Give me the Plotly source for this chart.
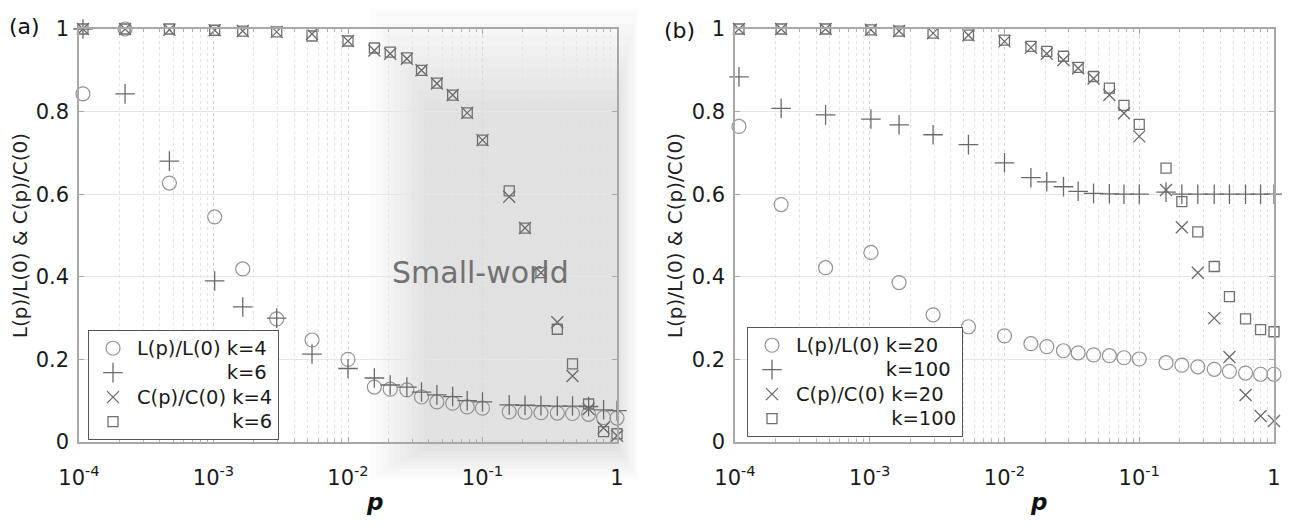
import plotly.graph_objects as go

# ---------------- data ----------------
p = [1.07e-4, 2.2e-4, 4.7e-4, 1.02e-3, 1.65e-3, 2.95e-3, 5.4e-3, 0.01, 0.0157, 0.0206,
     0.0274, 0.0352, 0.0458, 0.06, 0.077, 0.1, 0.158, 0.207, 0.272, 0.36, 0.467,
     0.615, 0.795, 1.0]

# panel (a)
L_k4 = [0.843, 1.0, 0.627, 0.545, 0.419, 0.298, 0.247, 0.200, 0.133, 0.128, 0.126, 0.109,
        0.097, 0.094, 0.085, 0.082, 0.073, 0.072, 0.071, 0.070, 0.069, 0.067, 0.059, 0.058]
L_k6 = [1.0, 0.843, 0.68, 0.39, 0.327, 0.30, 0.213, 0.178, 0.155, 0.138, 0.133, 0.121,
        0.114, 0.11, 0.10, 0.097, 0.09, 0.089, 0.088, 0.087, 0.087, 0.086, 0.078, 0.076]
C_k4 = [1.0, 1.0, 0.998, 0.997, 0.995, 0.993, 0.988, 0.971, 0.948, 0.94, 0.928, 0.90,
        0.868, 0.84, 0.797, 0.731, 0.594, 0.518, 0.41, 0.29, 0.16, 0.08, 0.034, 0.015]
C_k6 = [1.0, 1.0, 1.0, 0.997, 0.995, 0.993, 0.983, 0.971, 0.954, 0.944, 0.93, 0.90,
        0.869, 0.84, 0.797, 0.731, 0.608, 0.518, 0.41, 0.273, 0.189, 0.092, 0.025, 0.02]

# panel (b)
L_k20 = [0.764, 0.575, 0.422, 0.459, 0.386, 0.308, 0.279, 0.257, 0.238, 0.231, 0.221, 0.216,
         0.211, 0.209, 0.204, 0.201, 0.192, 0.186, 0.182, 0.176, 0.171, 0.167, 0.164, 0.164]
L_k100 = [0.884, 0.808, 0.792, 0.782, 0.768, 0.744, 0.720, 0.676, 0.64, 0.63, 0.618, 0.607,
          0.602, 0.601, 0.60, 0.60, 0.605, 0.60, 0.60, 0.60, 0.60, 0.60, 0.60, 0.60]
C_k20 = [1.0, 1.0, 1.0, 0.998, 0.995, 0.99, 0.985, 0.97, 0.955, 0.94, 0.925, 0.905,
         0.88, 0.84, 0.796, 0.74, 0.61, 0.52, 0.41, 0.30, 0.206, 0.114, 0.063, 0.051]
C_k100 = [1.0, 1.0, 1.0, 0.998, 0.995, 0.99, 0.985, 0.973, 0.958, 0.946, 0.934, 0.907,
          0.885, 0.857, 0.815, 0.769, 0.663, 0.582, 0.509, 0.425, 0.352, 0.298, 0.272, 0.267]

x_tickvals = [1e-4, 1e-3, 1e-2, 1e-1, 1]
x_ticktext = ["10<sup>-4</sup>", "10<sup>-3</sup>", "10<sup>-2</sup>", "10<sup>-1</sup>", "1"]
y_tickvals = [0, 0.2, 0.4, 0.6, 0.8, 1]
y_ticktext = ["0", "0.2", "0.4", "0.6", "0.8", "1"]
minor_vals = [m * 10.0 ** d for d in range(-4, 0) for m in range(2, 10)]

FONT = "DejaVu Sans"
OFF = 8                      # page body margin of the html page
W, H = 1290 - 2 * OFF, 526 - 2 * OFF
# plot area in page pixels: x 79..1274, y 29..442
ML = 79 - OFF
MT = 29 - OFF
MR = W - (1274 - OFF)
MB = H - (442 - OFF)
PW, PH = W - ML - MR, H - MT - MB


def px_x(px):
    return (px - OFF - ML) / PW


def px_y(py):
    return (H - MB - (py - OFF)) / PH


fig = go.Figure()

styles = {
    "circle": dict(symbol="circle-open", size=14, color="#939393", width=1.2),
    "plus": dict(symbol="cross-thin-open", size=14, color="#6a6a6a", width=1.3),
    "x": dict(symbol="x-thin-open", size=12, color="#6a6a6a", width=1.3),
    "square": dict(symbol="square-open", size=10, color="#707070", width=1.3),
}


def add(y, st, name, xa, ya, legend):
    s = styles[st]
    fig.add_trace(go.Scatter(
        x=p, y=y, mode="markers", name=name, xaxis=xa, yaxis=ya, legend=legend,
        cliponaxis=False,
        marker=dict(symbol=s["symbol"], size=s["size"], color=s["color"],
                    line=dict(color=s["color"], width=s["width"])),
    ))


LEG_FS = "19.5px"


def shown(txt):
    return "<span style='font-size:%s'>%s</span>" % (LEG_FS, txt)


def hidden(txt):
    return "<span style='font-size:%s;color:rgba(0,0,0,0)'>%s</span>" % (LEG_FS, txt)


add(L_k4, "circle", shown("L(p)/L(0) k=4"), "x", "y", "legend")
add(L_k6, "plus", hidden("L(p)/L(0)") + shown(" k=6"), "x", "y", "legend")
add(C_k4, "x", shown("C(p)/C(0) k=4"), "x", "y", "legend")
add(C_k6, "square", hidden("C(p)/C(0)") + shown(" k=6"), "x", "y", "legend")

add(L_k20, "circle", shown("L(p)/L(0) k=20"), "x2", "y2", "legend2")
add(L_k100, "plus", hidden("L(p)/L(0)") + shown(" k=100"), "x2", "y2", "legend2")
add(C_k20, "x", shown("C(p)/C(0) k=20"), "x2", "y2", "legend2")
add(C_k100, "square", hidden("C(p)/C(0)") + shown(" k=100"), "x2", "y2", "legend2")

xaxis_common = dict(
    type="log", range=[-4, 0], tickmode="array", tickvals=x_tickvals, ticktext=x_ticktext,
    showline=True, linecolor="#a8a8a8", linewidth=1.5, mirror="ticks",
    ticks="inside", ticklen=5, tickcolor="#a8a8a8",
    showgrid=True, gridcolor="#d8d8d8", griddash="dot", gridwidth=1,
    minor=dict(tickmode="array", tickvals=minor_vals, ticks="inside", ticklen=3,
               tickcolor="#b0b0b0", showgrid=True, gridcolor="#e4e4e4", griddash="dot"),
    tickfont=dict(family=FONT, size=21, color="#1a1a1a"),
    ticklabelstandoff=16, zeroline=False,
)
yaxis_common = dict(
    range=[0, 1], tickmode="array", tickvals=y_tickvals, ticktext=y_ticktext,
    showline=True, linecolor="#a8a8a8", linewidth=1.5, mirror="ticks",
    ticks="inside", ticklen=5, tickcolor="#a8a8a8",
    showgrid=True, gridcolor="#e6e6e6", gridwidth=1, zeroline=False,
    tickfont=dict(family=FONT, size=21, color="#1a1a1a"),
    ticklabelstandoff=4,
    title=dict(text="L(p)/L(0) & C(p)/C(0)", font=dict(family=FONT, size=20, color="#222"),
               standoff=4),
)

legend_common = dict(xanchor="left", yanchor="top", bgcolor="white", bordercolor="#555",
                     borderwidth=1, font=dict(family=FONT, size=16.5, color="#1a1a1a"),
                     tracegroupgap=0, itemsizing="trace", itemwidth=38)

fig.update_layout(
    width=W, height=H,
    margin=dict(l=ML, r=MR, t=MT, b=MB, autoexpand=False),
    paper_bgcolor="white", plot_bgcolor="rgba(0,0,0,0)",
    showlegend=True,
    xaxis=dict(domain=[0, px_x(617)], anchor="y", **xaxis_common),
    yaxis=dict(domain=[0, 1], anchor="x", **yaxis_common),
    xaxis2=dict(domain=[px_x(735), 1], anchor="y2", **xaxis_common),
    yaxis2=dict(domain=[0, 1], anchor="x2", **yaxis_common),
    legend=dict(x=px_x(88), y=px_y(330), **legend_common),
    legend2=dict(x=px_x(747), y=px_y(327), **legend_common),
)

# soft gray "small-world" band in panel (a)
n = 10
for i in range(n):
    fig.add_shape(type="rect", xref="paper", yref="paper", layer="below",
                  x0=px_x(370 + 6.0 * i), x1=px_x(638 - 2.2 * i),
                  y0=px_y(480 - 3.6 * i), y1=px_y(2 + 11.0 * i),
                  line=dict(width=0), fillcolor="black", opacity=0.0135)


def ann(text, x, y, size, color="#111"):
    return dict(text=text, x=px_x(x), y=px_y(y), xref="paper", yref="paper",
                xanchor="center", yanchor="middle", showarrow=False,
                font=dict(family=FONT, size=size, color=color))


annotations = [
    ann("Small-world", 480, 272, 30, "#727272"),
    ann("(a)", 24, 27, 22),
    ann("(b)", 679, 30, 22),
    ann("<b><i>p</i></b>", 374, 502, 23),
    ann("<b><i>p</i></b>", 1038, 502, 23),
]
fig.update_layout(annotations=annotations)

fig.write_html("out.html")
